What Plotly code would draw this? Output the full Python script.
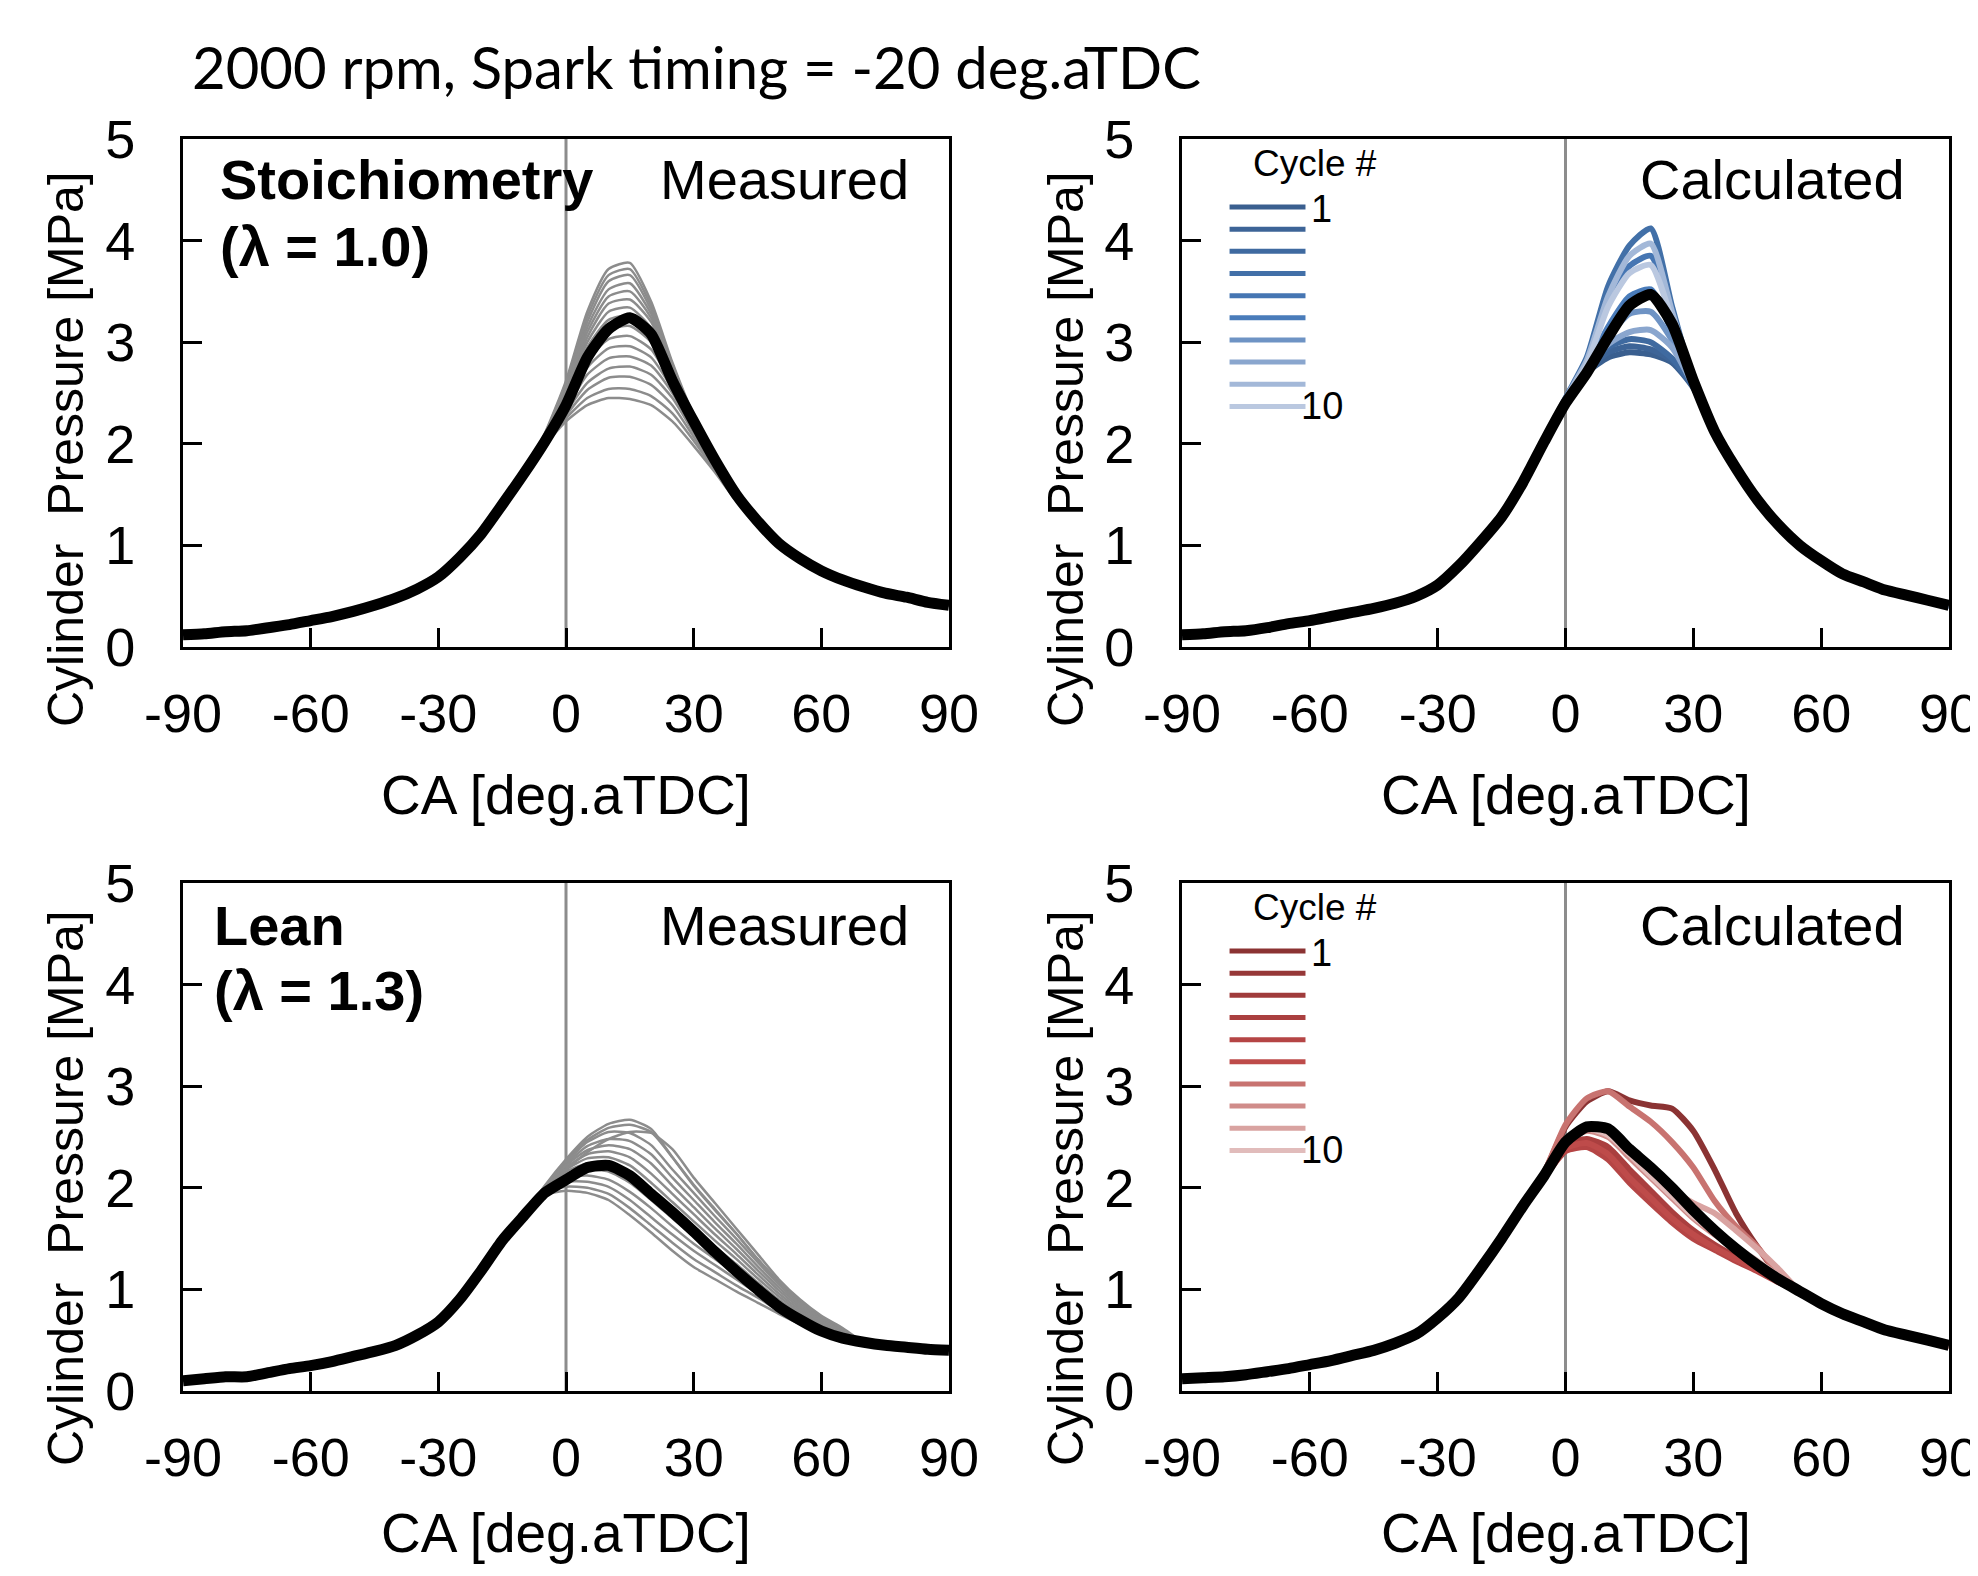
import plotly.graph_objects as go
from plotly.subplots import make_subplots

# crank angle grid [deg.aTDC]
ca = list(range(-90, 95, 5))

# ---- Stoichiometry, measured (lambda = 1.0) ----
stoich_meas_mean = [0.12, 0.13, 0.15, 0.16, 0.19, 0.22, 0.26, 0.30, 0.35, 0.41,
                    0.48, 0.57, 0.69, 0.88, 1.11, 1.40, 1.70, 2.02, 2.38, 2.85,
                    3.13, 3.24, 3.08, 2.62, 2.22, 1.84, 1.50, 1.24, 1.02, 0.87,
                    0.75, 0.66, 0.59, 0.53, 0.49, 0.44, 0.41]
# individual cycles, -5 ... 40 deg (same as mean elsewhere)
stoich_meas_cycles = [
    [2.10, 2.62, 3.30, 3.72, 3.78, 3.40, 2.80, 2.28, 1.86, 1.52],
    [2.09, 2.60, 3.25, 3.66, 3.72, 3.36, 2.78, 2.27, 1.86, 1.52],
    [2.08, 2.58, 3.20, 3.60, 3.66, 3.32, 2.76, 2.26, 1.86, 1.51],
    [2.07, 2.55, 3.15, 3.52, 3.58, 3.28, 2.74, 2.25, 1.85, 1.51],
    [2.06, 2.53, 3.10, 3.45, 3.50, 3.24, 2.72, 2.24, 1.85, 1.51],
    [2.05, 2.50, 3.05, 3.38, 3.42, 3.20, 2.70, 2.23, 1.84, 1.50],
    [2.04, 2.48, 3.00, 3.30, 3.34, 3.14, 2.68, 2.22, 1.84, 1.50],
    [2.03, 2.46, 2.95, 3.22, 3.26, 3.08, 2.65, 2.21, 1.83, 1.50],
    [2.02, 2.43, 2.88, 3.12, 3.16, 3.00, 2.62, 2.20, 1.83, 1.49],
    [2.01, 2.40, 2.82, 3.03, 3.06, 2.93, 2.58, 2.18, 1.82, 1.49],
    [2.00, 2.37, 2.75, 2.94, 2.96, 2.85, 2.54, 2.16, 1.81, 1.48],
    [2.00, 2.34, 2.68, 2.84, 2.86, 2.77, 2.50, 2.14, 1.80, 1.48],
    [1.99, 2.31, 2.60, 2.74, 2.76, 2.68, 2.45, 2.11, 1.78, 1.47],
    [1.99, 2.28, 2.53, 2.65, 2.66, 2.58, 2.38, 2.07, 1.76, 1.46],
    [1.98, 2.25, 2.45, 2.54, 2.54, 2.47, 2.30, 2.03, 1.74, 1.45],
    [1.98, 2.22, 2.38, 2.45, 2.44, 2.38, 2.22, 1.98, 1.72, 1.44],
]

# ---- Stoichiometry, calculated ----
stoich_calc_mean = [0.12, 0.13, 0.15, 0.16, 0.19, 0.23, 0.26, 0.30, 0.34, 0.38,
                    0.43, 0.50, 0.61, 0.80, 1.03, 1.28, 1.62, 2.02, 2.40, 2.70,
                    3.05, 3.36, 3.47, 3.18, 2.62, 2.12, 1.76, 1.45, 1.20, 1.00,
                    0.85, 0.72, 0.64, 0.56, 0.51, 0.46, 0.41]
# cycles 1..10, -5 ... 40 deg
stoich_calc_cycles = [
    [2.02, 2.42, 2.70, 2.85, 2.90, 2.88, 2.80, 2.55, 2.12, 1.76],
    [2.02, 2.42, 2.72, 2.90, 2.96, 2.93, 2.82, 2.56, 2.12, 1.76],
    [2.02, 2.41, 2.73, 2.95, 3.03, 3.00, 2.84, 2.57, 2.12, 1.76],
    [2.03, 2.45, 2.85, 3.55, 3.95, 4.12, 3.35, 2.62, 2.12, 1.76],
    [2.02, 2.43, 2.80, 3.40, 3.75, 3.85, 3.25, 2.60, 2.12, 1.76],
    [2.02, 2.42, 2.75, 3.15, 3.45, 3.52, 3.10, 2.60, 2.12, 1.76],
    [2.02, 2.42, 2.74, 3.05, 3.28, 3.30, 3.02, 2.58, 2.12, 1.76],
    [2.02, 2.41, 2.72, 2.98, 3.10, 3.12, 2.95, 2.57, 2.12, 1.76],
    [2.02, 2.44, 2.82, 3.45, 3.85, 3.97, 3.30, 2.62, 2.12, 1.76],
    [2.02, 2.43, 2.78, 3.35, 3.68, 3.76, 3.22, 2.60, 2.12, 1.76],
]
blue_colors = ["#3a5f8f", "#3d6497", "#3f6aa0", "#4270a8", "#4676b3",
               "#4a7cba", "#6e93c4", "#8aa6ce", "#a3b8d8", "#bac8e0"]

# ---- Lean, measured (lambda = 1.3) ----
lean_meas_mean = [0.10, 0.12, 0.14, 0.14, 0.18, 0.22, 0.25, 0.29, 0.34, 0.39,
                  0.45, 0.55, 0.68, 0.90, 1.18, 1.48, 1.72, 1.95, 2.08, 2.20,
                  2.22, 2.12, 1.94, 1.76, 1.57, 1.37, 1.18, 1.00, 0.83, 0.70,
                  0.59, 0.52, 0.48, 0.45, 0.43, 0.41, 0.40]
# cycles, -5 ... 65 deg
lean_meas_cycles = [
    [2.02, 2.28, 2.50, 2.63, 2.67, 2.58, 2.30, 2.02, 1.78, 1.55, 1.30, 1.08, 0.88, 0.72, 0.60],
    [2.01, 2.26, 2.47, 2.59, 2.62, 2.55, 2.30, 2.03, 1.79, 1.55, 1.30, 1.07, 0.88, 0.72, 0.60],
    [2.01, 2.25, 2.45, 2.55, 2.54, 2.42, 2.18, 1.95, 1.72, 1.50, 1.27, 1.05, 0.86, 0.71, 0.59],
    [2.00, 2.23, 2.41, 2.48, 2.46, 2.33, 2.10, 1.88, 1.66, 1.45, 1.23, 1.02, 0.84, 0.70, 0.58],
    [2.00, 2.22, 2.37, 2.42, 2.38, 2.24, 2.02, 1.81, 1.60, 1.40, 1.19, 0.99, 0.82, 0.68, 0.57],
    [1.99, 2.20, 2.33, 2.36, 2.30, 2.14, 1.94, 1.74, 1.54, 1.35, 1.15, 0.96, 0.80, 0.67, 0.56],
    [1.99, 2.18, 2.29, 2.30, 2.22, 2.05, 1.86, 1.67, 1.48, 1.30, 1.11, 0.93, 0.78, 0.66, 0.56],
    [1.98, 2.16, 2.24, 2.23, 2.13, 1.96, 1.78, 1.60, 1.42, 1.25, 1.07, 0.90, 0.76, 0.64, 0.55],
    [1.98, 2.14, 2.18, 2.16, 2.05, 1.88, 1.70, 1.52, 1.36, 1.20, 1.03, 0.87, 0.74, 0.63, 0.54],
    [1.97, 2.10, 2.12, 2.08, 1.96, 1.80, 1.62, 1.45, 1.30, 1.15, 1.00, 0.85, 0.72, 0.62, 0.54],
    [1.96, 2.06, 2.06, 2.01, 1.88, 1.71, 1.54, 1.38, 1.24, 1.10, 0.96, 0.82, 0.70, 0.61, 0.53],
    [1.95, 2.01, 2.00, 1.94, 1.80, 1.63, 1.46, 1.30, 1.17, 1.04, 0.92, 0.79, 0.68, 0.60, 0.52],
    [1.93, 1.97, 1.95, 1.88, 1.73, 1.56, 1.38, 1.22, 1.10, 0.98, 0.87, 0.76, 0.66, 0.59, 0.52],
    [1.99, 2.18, 2.35, 2.48, 2.55, 2.54, 2.38, 2.10, 1.85, 1.60, 1.35, 1.10, 0.90, 0.74, 0.62],
]

# ---- Lean, calculated ----
lean_calc_mean = [0.12, 0.13, 0.14, 0.16, 0.19, 0.22, 0.26, 0.30, 0.35, 0.40,
                  0.47, 0.56, 0.72, 0.92, 1.20, 1.50, 1.82, 2.12, 2.45, 2.60,
                  2.58, 2.38, 2.20, 2.00, 1.78, 1.58, 1.40, 1.24, 1.10, 0.98,
                  0.86, 0.76, 0.68, 0.60, 0.55, 0.50, 0.45]
# cycles 1..10, -5 ... 50 deg
lean_calc_cycles = [
    [2.15, 2.60, 2.85, 2.95, 2.86, 2.81, 2.78, 2.56, 2.18, 1.75, 1.42, 1.15],
    [2.12, 2.40, 2.45, 2.35, 2.12, 1.92, 1.72, 1.55, 1.42, 1.30, 1.20, 1.08],
    [2.11, 2.38, 2.42, 2.30, 2.08, 1.88, 1.68, 1.52, 1.40, 1.29, 1.19, 1.08],
    [2.12, 2.42, 2.48, 2.40, 2.18, 1.97, 1.76, 1.58, 1.44, 1.32, 1.21, 1.09],
    [2.10, 2.36, 2.40, 2.28, 2.05, 1.85, 1.66, 1.50, 1.39, 1.28, 1.18, 1.07],
    [2.11, 2.39, 2.44, 2.33, 2.10, 1.90, 1.70, 1.54, 1.41, 1.30, 1.19, 1.08],
    [2.15, 2.62, 2.88, 2.95, 2.80, 2.65, 2.45, 2.20, 1.87, 1.62, 1.42, 1.15],
    [2.13, 2.46, 2.56, 2.50, 2.30, 2.10, 1.90, 1.70, 1.54, 1.40, 1.26, 1.12],
    [2.12, 2.45, 2.58, 2.55, 2.35, 2.15, 1.98, 1.85, 1.75, 1.58, 1.40, 1.20],
    [2.13, 2.47, 2.58, 2.52, 2.33, 2.12, 1.92, 1.72, 1.56, 1.42, 1.28, 1.13],
]
red_colors = ["#8b3333", "#963838", "#a03b3b", "#aa3f3f", "#b54545",
              "#be4b4a", "#c87370", "#d08c8a", "#d9a3a1", "#e1bcbb"]

x_ticks = [-90, -60, -30, 0, 30, 60, 90]
x_ticktext = ["-90", "-60", "-30", "0", "30", "60", "90"]
y_ticks = [0, 1, 2, 3, 4, 5]

W, H = 1970, 1560
START = ca.index(-5)


def fx(p):
    return (p - 8) / W


def fy(p):
    return 1 - (p - 8) / H


def full_cycle(mean, window):
    # cycle values inside the window, mean curve where all cycles overlap
    return mean[:START] + window + mean[START + len(window):]


fig = make_subplots(rows=2, cols=2)

panels = [
    (1, 1, stoich_meas_mean, stoich_meas_cycles, None),
    (1, 2, stoich_calc_mean, stoich_calc_cycles, blue_colors),
    (2, 1, lean_meas_mean, lean_meas_cycles, None),
    (2, 2, lean_calc_mean, lean_calc_cycles, red_colors),
]

for row, col, mean, cycles, colors in panels:
    for i, cyc in enumerate(cycles):
        if colors is None:
            line = dict(color="#8c8c8c", width=2.5, shape="spline", smoothing=0.6)
        else:
            line = dict(color=colors[i], width=6, shape="spline", smoothing=0.6)
        fig.add_trace(go.Scatter(x=ca, y=full_cycle(mean, cyc), mode="lines",
                                 line=line, showlegend=False), row=row, col=col)
    fig.add_trace(go.Scatter(x=ca, y=mean, mode="lines",
                             line=dict(color="black", width=11, shape="spline", smoothing=0.6),
                             showlegend=False), row=row, col=col)

# panel positions
x_left = [fx(183), fx(949)]
x_right = [fx(1182), fx(1949)]
y_top = [fy(647), fy(139)]
y_bot = [fy(1391), fy(883)]

tick_font = dict(family="Liberation Sans, Arial, sans-serif", size=54, color="black")
axis_font = dict(family="Liberation Sans, Arial, sans-serif", size=55, color="black")
ytitle_font = dict(family="Liberation Sans, Arial, sans-serif", size=50, color="black")
common_x = dict(range=[-90, 90], tickvals=x_ticks, ticktext=x_ticktext, ticks="inside",
                ticklen=19, tickwidth=3, tickcolor="black", showline=True, linecolor="black",
                linewidth=3, mirror=True, showgrid=False, zeroline=False, tickfont=tick_font,
                ticklabelstandoff=17, automargin=False, ticklabeloverflow="allow")
common_y = dict(range=[0, 5], tickvals=y_ticks, ticks="inside", ticklen=19, tickwidth=3,
                tickcolor="black", showline=True, linecolor="black", linewidth=3, mirror=True,
                showgrid=False, zeroline=False, tickfont=tick_font, ticklabelstandoff=34,
                automargin=False, ticklabeloverflow="allow")

fig.update_layout(
    xaxis=dict(domain=x_left, **common_x), yaxis=dict(domain=y_top, **common_y),
    xaxis2=dict(domain=x_right, **common_x), yaxis2=dict(domain=y_top, **common_y),
    xaxis3=dict(domain=x_left, **common_x), yaxis3=dict(domain=y_bot, **common_y),
    xaxis4=dict(domain=x_right, **common_x), yaxis4=dict(domain=y_bot, **common_y),
    width=W, height=H,
    margin=dict(l=0, r=0, t=0, b=0),
    paper_bgcolor="white", plot_bgcolor="white",
    showlegend=False,
)

# vertical line at TDC
for k in ["", "2", "3", "4"]:
    fig.add_shape(type="line", xref="x" + k, yref="y" + k, x0=0, x1=0, y0=0, y1=5,
                  line=dict(color="#8c8c8c", width=3), layer="below")

# figure title
fig.add_annotation(text="2000 rpm, Spark timing = -20 deg.aTDC", xref="paper", yref="paper",
                   x=fx(190), y=fy(67), xanchor="left", yanchor="middle", showarrow=False,
                   font=dict(family="Lato, sans-serif", size=58, color="black"))

# axis titles
for cx in [566, 1566]:
    for cy in [795, 1533]:
        fig.add_annotation(text="CA [deg.aTDC]", xref="paper", yref="paper", x=fx(cx), y=fy(cy),
                           xanchor="center", yanchor="middle", showarrow=False, font=axis_font)
for cx in [66, 1066]:
    for cy in [449, 1188]:
        fig.add_annotation(text="Cylinder  Pressure [MPa]", xref="paper", yref="paper",
                           x=fx(cx), y=fy(cy), xanchor="center", yanchor="middle",
                           textangle=-90, showarrow=False, font=ytitle_font)

bold_font = dict(family="Liberation Sans, Arial, sans-serif", size=56, color="black")
label_font = dict(family="Liberation Sans, Arial, sans-serif", size=56, color="black")

panel_text = [
    ("", "<b>Stoichiometry</b>", 0.046, 0.921, "left", bold_font),
    ("", "<b>(λ = 1.0)</b>", 0.046, 0.789, "left", bold_font),
    ("", "Measured", 0.950, 0.921, "right", label_font),
    ("2", "Calculated", 0.945, 0.921, "right", label_font),
    ("3", "<b>Lean</b>", 0.038, 0.917, "left", bold_font),
    ("3", "<b>(λ = 1.3)</b>", 0.038, 0.789, "left", bold_font),
    ("3", "Measured", 0.950, 0.917, "right", label_font),
    ("4", "Calculated", 0.945, 0.917, "right", label_font),
]
for k, txt, xd, yd, anchor, fnt in panel_text:
    fig.add_annotation(text=txt, xref="x%s domain" % k, yref="y%s domain" % k, x=xd, y=yd,
                       xanchor=anchor, yanchor="middle", showarrow=False, font=fnt)

# cycle # keys
small_font = dict(family="Liberation Sans, Arial, sans-serif", size=37, color="black")
num_font = dict(family="Liberation Sans, Arial, sans-serif", size=38, color="black")
for k, colors in [("2", blue_colors), ("4", red_colors)]:
    for i, c in enumerate(colors):
        yk = 0.866 - i * 0.0436
        fig.add_shape(type="line", xref="x%s domain" % k, yref="y%s domain" % k,
                      x0=0.062, x1=0.161, y0=yk, y1=yk, line=dict(color=c, width=5))
    fig.add_annotation(text="Cycle #", xref="x%s domain" % k, yref="y%s domain" % k,
                       x=0.090, y=0.951, xanchor="left", yanchor="middle", showarrow=False,
                       font=small_font)
    fig.add_annotation(text="1", xref="x%s domain" % k, yref="y%s domain" % k,
                       x=0.166, y=0.862, xanchor="left", yanchor="middle", showarrow=False,
                       font=num_font)
    fig.add_annotation(text="10", xref="x%s domain" % k, yref="y%s domain" % k,
                       x=0.152, y=0.474, xanchor="left", yanchor="middle", showarrow=False,
                       font=num_font)

fig.write_html("out.html")
